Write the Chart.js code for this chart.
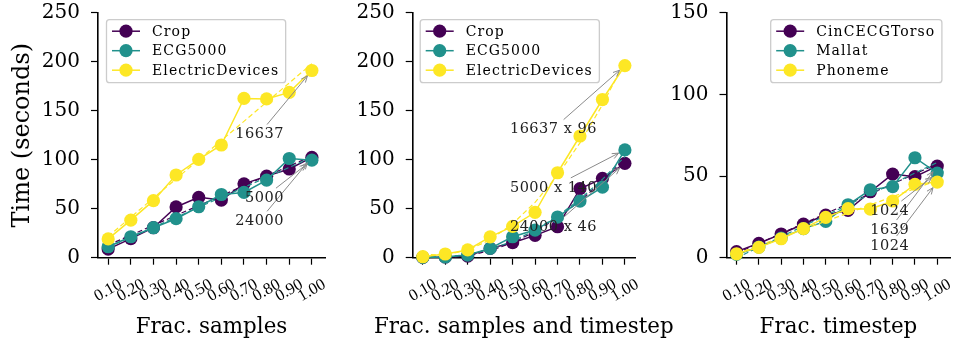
<!DOCTYPE html>
<html><head><meta charset="utf-8">
<script src="https://cdn.jsdelivr.net/npm/chart.js@4.4.1/dist/chart.umd.min.js"></script>
<style>
html,body{margin:0;padding:0;background:#fff;}
#wrap{position:relative;width:957px;height:343px;overflow:hidden;background:#fff;}
#wrap canvas{position:absolute;left:0;top:0;}
</style></head><body>
<div id="wrap">
<canvas id="c1" width="957" height="343" style="width:957px;height:343px"></canvas>
<canvas id="c2" width="957" height="343" style="width:957px;height:343px"></canvas>
<canvas id="c3" width="957" height="343" style="width:957px;height:343px"></canvas>
</div>
<script>
// ---------- data ----------
const fracs = [0.1, 0.2, 0.3, 0.4, 0.5, 0.6, 0.7, 0.8, 0.9, 1.0];
const fracLabels = ["0.10","0.20","0.30","0.40","0.50","0.60","0.70","0.80","0.90","1.00"];
const yTicks250 = [0, 50, 100, 150, 200, 250];
const yTicks150 = [0, 50, 100, 150];
const trendEnds = [0.1, 1.0];

// Panel 1 : Frac. samples
const p1Names = ["Crop", "ECG5000", "ElectricDevices"];
const p1Crop = [8.8, 19.4, 30.6, 51.8, 61.6, 58.8, 75.4, 83.2, 90.5, 102.4];
const p1ECG  = [11.2, 21.4, 30.6, 39.8, 52.0, 64.5, 66.6, 79.2, 101.2, 99.5];
const p1Elec = [19.2, 38.3, 58.2, 84.4, 100.3, 115.0, 162.5, 162.0, 168.7, 191.0];
const p1CropTrend = [12.9, 103.6];
const p1ECGTrend  = [10.7, 102.3];
const p1ElecTrend = [21.7, 197.9];
const p1Notes = ["24000", "5000", "16637"];

// Panel 2 : Frac. samples and timestep
const p2Names = ["Crop", "ECG5000", "ElectricDevices"];
const p2Crop = [0.3, 0.7, 1.7, 9.5, 15.3, 22.8, 31.6, 70.4, 81.0, 96.3];
const p2ECG  = [0.3, 0.7, 2.7, 9.5, 21.4, 28.2, 41.5, 57.8, 72.0, 110.0];
const p2Elec = [1.0, 3.8, 7.9, 21.3, 32.0, 46.3, 86.7, 124.2, 161.4, 196.0];
const p2CropTrend = [0.7, -0.2, 2.0, 7.2, 15.4, 26.6, 40.7, 57.9, 78.1, 101.2];
const p2ECGTrend  = [1.5, 0.9, 3.2, 8.5, 16.8, 28.1, 42.4, 59.7, 80.0, 103.2];
const p2ElecTrend = [3.3, 2.7, 7.7, 18.3, 34.6, 56.5, 84.0, 117.2, 156.0, 200.4];
const p2Notes = ["24000 x 46", "5000 x 140", "16637 x 96"];

// Panel 3 : Frac. timestep
const p3Names = ["CinCECGTorso", "Mallat", "Phoneme"];
const p3Cin   = [3.7, 8.8, 14.5, 20.6, 26.1, 29.0, 40.4, 51.2, 49.6, 56.1];
const p3Mal   = [2.0, 6.5, 12.0, 17.8, 22.2, 32.4, 41.6, 43.5, 61.2, 51.8];
const p3Pho   = [2.4, 6.3, 11.6, 17.8, 24.7, 30.0, 29.8, 34.7, 44.9, 46.3];
const p3CinTrend = [2.7, 57.4];
const p3MalTrend = [-0.1, 58.3];
const p3PhoTrend = [2.4, 47.3];
const p3Notes = ["1639", "1024", "1024"];

// ---------- styling ----------
const FONT = "'DejaVu Serif', serif";
const TICK_FONT = "'Liberation Serif', 'DejaVu Serif', serif";
const COLORS = ["#440154", "#21918c", "#fde725"];
const NOTE_DY = [63, 37, 63];

function pts(xs, ys) { return xs.map((x, i) => ({x: x, y: ys[i]})); }

function buildDatasets(names, series, trendXs, trends) {
  const ds = [];
  let k = 0;
  names.forEach((n, i) => {
    ds.push({label: n, data: pts(fracs, series[i]), borderColor: COLORS[i], backgroundColor: COLORS[i],
      borderWidth: 1.5, pointRadius: 6.6, pointHoverRadius: 6.6, pointBorderWidth: 0,
      pointBackgroundColor: COLORS[i], clip: false, order: 100 - (k++), inLegend: true, seriesIndex: i});
    ds.push({label: n + " fit", data: pts(trendXs, trends[i]), borderColor: COLORS[i],
      borderWidth: 1.2, borderDash: [5, 3], pointRadius: 0, clip: false, order: 100 - (k++), inLegend: false});
  });
  return ds;
}

const legendPlugin = {
  id: 'boxLegend',
  afterDatasetsDraw(chart, args, o) {
    const ctx = chart.ctx, ca = chart.chartArea;
    const items = chart.data.datasets.filter(d => d.inLegend);
    ctx.save();
    ctx.font = o.fontSize + "px " + FONT;
    if ('letterSpacing' in ctx) ctx.letterSpacing = o.spacing + "px";
    const tw = Math.max(...items.map(d => ctx.measureText(d.label).width));
    const w = 46 + tw + 6, h = 63;
    const x0 = o.align === 'right' ? ca.right - o.dx - w : ca.left + o.dx;
    const y0 = ca.top + o.dy;
    ctx.beginPath();
    ctx.roundRect(x0 + 0.5, y0 + 0.5, w, h, 3);
    ctx.fillStyle = "rgba(255,255,255,0.85)";
    ctx.fill();
    ctx.strokeStyle = "#cccccc";
    ctx.lineWidth = 1.3;
    ctx.stroke();
    items.forEach((d, i) => {
      const cy = y0 + 12 + i * 19.5;
      ctx.strokeStyle = d.borderColor; ctx.lineWidth = 1.5;
      ctx.beginPath(); ctx.moveTo(x0 + 6, cy); ctx.lineTo(x0 + 34, cy); ctx.stroke();
      ctx.fillStyle = d.borderColor;
      ctx.beginPath(); ctx.arc(x0 + 20, cy, 6.6, 0, Math.PI * 2); ctx.fill();
      ctx.fillStyle = "#000"; ctx.textAlign = "left"; ctx.textBaseline = "middle";
      ctx.fillText(d.label, x0 + 46, cy + 1);
    });
    ctx.restore();
  }
};

const notePlugin = {
  id: 'notes',
  afterDatasetsDraw(chart, args, o) {
    const ctx = chart.ctx;
    ctx.save();
    ctx.font = o.fontSize + "px " + FONT;
    if ('letterSpacing' in ctx) ctx.letterSpacing = o.spacing + "px";
    o.texts.forEach((t, i) => {
      const dsIndex = chart.data.datasets.findIndex(d => d.inLegend && d.seriesIndex === i);
      const meta = chart.getDatasetMeta(dsIndex);
      const el = meta.data[meta.data.length - 1];
      const px = el.x, py = el.y;
      const tw = ctx.measureText(t).width;
      const right = px + o.dx, left = right - tw;
      const cy = py + NOTE_DY[i];
      const cx = (left + right) / 2;
      const vx = px - cx, vy = py - cy, L = Math.hypot(vx, vy);
      const ux = vx / L, uy = vy / L;
      const hw = tw / 2 + 3, hh = 9;
      const tEdge = Math.min(Math.abs(hw / ux), Math.abs(hh / uy));
      const sx = cx + ux * tEdge, sy = cy + uy * tEdge;
      const ex = px - ux * 7, ey = py - uy * 7;
      ctx.strokeStyle = "#8a8a8a"; ctx.lineWidth = 1;
      ctx.beginPath(); ctx.moveTo(sx, sy); ctx.lineTo(ex, ey); ctx.stroke();
      const a = Math.atan2(uy, ux), hl = 7, ha = 0.4;
      ctx.beginPath();
      ctx.moveTo(ex - hl * Math.cos(a - ha), ey - hl * Math.sin(a - ha));
      ctx.lineTo(ex, ey);
      ctx.lineTo(ex - hl * Math.cos(a + ha), ey - hl * Math.sin(a + ha));
      ctx.stroke();
      ctx.fillStyle = "#222"; ctx.textAlign = "right"; ctx.textBaseline = "middle";
      ctx.fillText(t, right, cy + 1);
    });
    ctx.restore();
  }
};

// x-axis title drawn without width compression (the long label overhangs the axis)
const xTitlePlugin = {
  id: 'xTitle',
  afterDraw(chart, args, o) {
    const ctx = chart.ctx, ca = chart.chartArea;
    ctx.save();
    ctx.font = o.fontSize + "px " + FONT;
    ctx.fillStyle = "#000"; ctx.textAlign = "center"; ctx.textBaseline = "alphabetic";
    ctx.fillText(o.text, (ca.left + ca.right) / 2, o.baseline);
    ctx.restore();
  }
};

function makeChart(id, cfg) {
  const axisCommon = {
    grid: {display: true, drawOnChartArea: false, drawTicks: true, tickLength: 7, tickColor: "#000", tickWidth: 1.2, color: "#000"},
    border: {display: true, color: "#000", width: 1.6}
  };
  return new Chart(document.getElementById(id), {
    type: 'line',
    data: {datasets: buildDatasets(cfg.names, cfg.series, cfg.trendXs, cfg.trends)},
    options: {
      responsive: false, animation: false, events: [],
      layout: {padding: {left: cfg.padL, right: cfg.padR, top: 12.7, bottom: 0}},
      plugins: {legend: {display: false}, tooltip: {enabled: false},
        boxLegend: {fontSize: 14, spacing: 1.1, align: cfg.legAlign, dx: cfg.legDx, dy: 6.5},
        notes: {texts: cfg.notes, dx: -28, fontSize: 14.5, spacing: 0.5},
        xTitle: {text: cfg.xTitle, fontSize: 21.4, baseline: 333}},
      scales: {
        x: Object.assign({}, axisCommon, {
          type: 'linear', min: 0.055, max: cfg.xMax,
          afterBuildTicks: s => { s.ticks = fracs.map(v => ({value: v})); },
          afterFit: s => { s.height = 85.3; s.paddingLeft = 0; s.paddingRight = 0; },
          ticks: {autoSkip: false, minRotation: 30, maxRotation: 30, labelOffset: 12.5, padding: 10,
            color: "#000", font: {family: TICK_FONT, size: 16.5},
            callback: (v, i) => fracLabels[i]},
          title: {display: false}
        }),
        y: Object.assign({}, axisCommon, {
          min: 0, max: cfg.yMax,
          afterBuildTicks: s => { s.ticks = cfg.yTicks.map(v => ({value: v})); },
          afterFit: s => { s.width = cfg.yW; s.paddingTop = 0; s.paddingBottom = 0; },
          ticks: {color: "#000", font: {family: FONT, size: 20}, padding: 11},
          title: {display: !!cfg.yTitle, text: cfg.yTitle || "", color: "#000", font: {family: FONT, size: 24}, padding: {top: 8, bottom: 0}}
        })
      }
    },
    plugins: [legendPlugin, notePlugin, xTitlePlugin]
  });
}

makeChart('c1', {names: p1Names, series: [p1Crop, p1ECG, p1Elec], trendXs: trendEnds,
  trends: [p1CropTrend, p1ECGTrend, p1ElecTrend], notes: p1Notes, padL: 0, padR: 632, yW: 98, xMax: 1.058,
  yMax: 250, yTicks: yTicks250, xTitle: "Frac. samples", yTitle: "Time (seconds)", legAlign: 'left', legDx: 8});
makeChart('c2', {names: p2Names, series: [p2Crop, p2ECG, p2Elec], trendXs: fracs,
  trends: [p2CropTrend, p2ECGTrend, p2ElecTrend], notes: p2Notes, padL: 330, padR: 322, yW: 82.7, xMax: 1.045,
  yMax: 250, yTicks: yTicks250, xTitle: "Frac. samples and timestep", legAlign: 'left', legDx: 7});
makeChart('c3', {names: p3Names, series: [p3Cin, p3Mal, p3Pho], trendXs: trendEnds,
  trends: [p3CinTrend, p3MalTrend, p3PhoTrend], notes: p3Notes, padL: 648, padR: 6, yW: 78.5, xMax: 1.059,
  yMax: 150, yTicks: yTicks150, xTitle: "Frac. timestep", legAlign: 'right', legDx: 9});
</script>
</body></html>
